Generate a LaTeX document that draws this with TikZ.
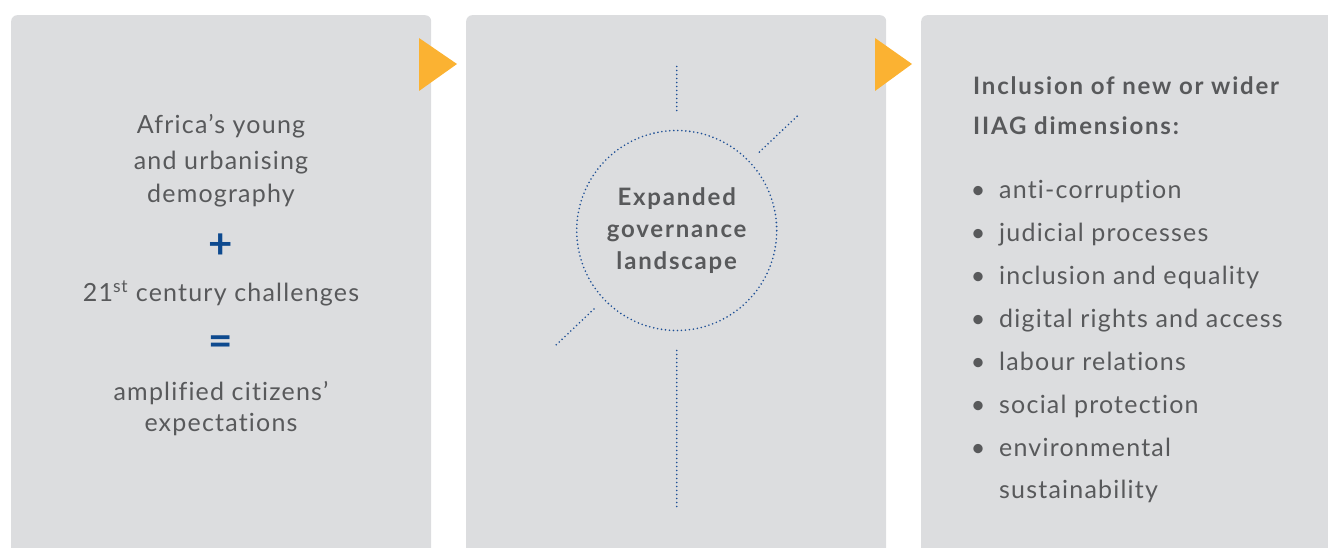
\documentclass[tikz,border=0pt]{standalone}
\usepackage{fontspec}
\setmainfont{Lato}[LetterSpace=4.8, Ligatures={TeX,NoCommon}]
\newfontfamily\headfont{Lato}[LetterSpace=7.5, Ligatures={TeX,NoCommon}]
\usetikzlibrary{calc}
\definecolor{panelgrey}{HTML}{DCDDDF}
\definecolor{textgrey}{HTML}{58595B}
\definecolor{tiporange}{HTML}{FBB232}
\definecolor{dotblue}{HTML}{1F5096}
\definecolor{signblue}{HTML}{0E4A8F}
\tikzset{
  panel/.style={fill=panelgrey, rounded corners=6pt, minimum width=420pt,
    minimum height=560pt, anchor=north west},
  dots/.style={draw=dotblue, line width=1.8pt, line cap=round,
    dash pattern=on 0pt off 4pt},
  lhs/.style={anchor=base, font=\fontsize{25}{29}\selectfont},
  sign/.style={text=signblue, font=\headfont\bfseries\fontsize{42}{42}\selectfont},
  hub/.style={circle, dots, minimum size=200pt, align=center,
    font=\headfont\bfseries\fontsize{24}{32}\selectfont},
  head/.style={anchor=base west, font=\headfont\bfseries\fontsize{24}{29}\selectfont},
  listitem/.style={anchor=base west, font=\fontsize{25}{29}\selectfont},
  bulletmark/.style={anchor=base, font=\fontsize{25}{29}\selectfont}
}
\begin{document}
\begin{tikzpicture}[x=1pt, y=-1pt, every node/.style={text=textgrey, inner sep=0pt}]
  \clip (0,0) rectangle (1328,548);
  \node[panel] (p1) at (11,15) {};
  \node[panel] (p2) at (466,15) {};
  \node[panel] (p3) at (921,15) {};
  \fill[tiporange] (419,38) -- (457,64) -- (419,91) -- cycle;
  \fill[tiporange] (875,38) -- (912,64) -- (875,91) -- cycle;
  \draw
    (221,133.3) node[lhs] (l1) {Africa's young}
    (221,169.3) node[lhs] (l2) {and urbanising}
    (221,202.7) node[lhs] (l3) {demography}
    (221,245.7) node[sign] (plus) {+}
    (221,301.7) node[lhs] (l4) {21\textsuperscript{st} century challenges}
    (221,345.7) node[sign] (eq) {=}
    (221,400) node[lhs] (l5) {amplified citizens'}
    (221,431.7) node[lhs] (l6) {expectations};
  \node[hub] (hub) at (676.7,230.5) {Expanded\\governance\\landscape};
  \begin{scope}[dots]
    \foreach \a/\r/\s in {270/120/166, -43.5/114/168, 136.5/114/168, 90/120/276}
      \draw ($(hub.center)+(\a:\r)$) -- ($(hub.center)+(\a:\s)$);
  \end{scope}
  \node[head] (h1) at (973,95) {Inclusion of new or wider};
  \node[head] (h2) at (973,135) {IIAG dimensions:};
  \foreach \t [count=\i] in {anti-corruption, judicial processes,
      inclusion and equality, digital rights and access, labour relations,
      social protection, environmental}
    \path (978,{155.3+43*\i}) node[bulletmark] (b\i) {\textbullet}
          (999,{155.3+43*\i}) node[listitem] (d\i) {\t};
  \node[listitem] (d8) at (999,498.3) {sustainability};
\end{tikzpicture}
\end{document}
